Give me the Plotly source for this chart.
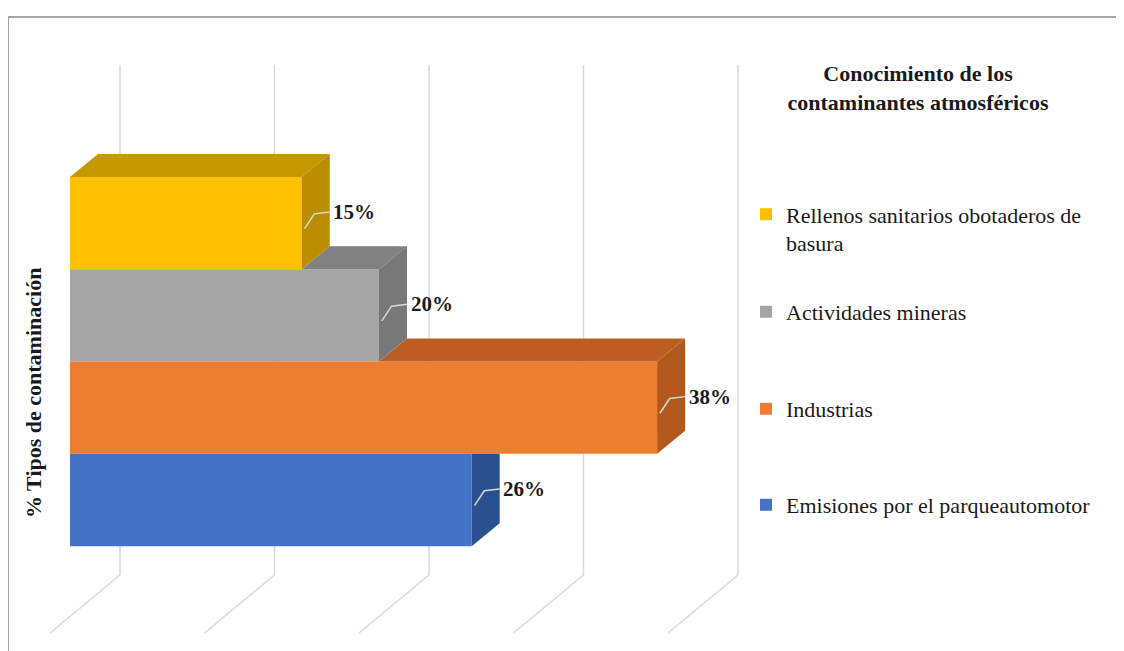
import plotly.graph_objects as go

# ---------------- data ----------------
categories = ["Rellenos sanitarios obotaderos de<br>basura",
              "Actividades mineras",
              "Industrias",
              "Emisiones por el parqueautomotor"]
values = [15, 20, 38, 26]
value_labels = ["15%", "20%", "38%", "26%"]
grid_ticks = [0, 10, 20, 30, 40]
chart_title = "Conocimiento de los<br>contaminantes atmosféricos"
axis_title = "% Tipos de contaminación"

# ---------------- styles ----------------
front_colors = ["#FFC000", "#A5A5A5", "#ED7D31", "#4472C4"]
top_colors = ["#C59800", "#818181", "#BC5E22", "#2F5597"]
side_colors = ["#BB8E00", "#787878", "#B3581D", "#2B5090"]
SERIF = "Liberation Serif, Times New Roman, serif"

PAGE_OFF = 8                      # default page body margin
W, H = 1124 - PAGE_OFF, 651 - PAGE_OFF


def xp(px):
    return (px - PAGE_OFF) / W


def yp(py):
    return 1 - (py - PAGE_OFF) / H


X0_PX, PX_PER_PCT = 70.0 - PAGE_OFF, 15.45   # pixel of 0 % on the front plane
Y0_PX, PX_PER_CAT = 500.0 - PAGE_OFF, 92.3   # pixel of lowest category centre
DX = 28 / PX_PER_PCT                 # bar depth (x) in axis units
DY = 23 / PX_PER_CAT                 # bar depth (y) in axis units
WALL_DX = 50 / PX_PER_PCT            # back wall offset
FLOOR_DX = -70 / PX_PER_PCT          # floor front edge offset from wall
WALL_BOTTOM = 75 / -PX_PER_CAT + 0   # 575 px
WALL_BOTTOM = (500 - 575) / PX_PER_CAT
WALL_TOP = (500 - 65) / PX_PER_CAT
FLOOR_FRONT = (500 - 633) / PX_PER_CAT

xr = [(0 - X0_PX) / PX_PER_PCT, (W - X0_PX) / PX_PER_PCT]
yr = [(Y0_PX - H) / PX_PER_CAT, Y0_PX / PX_PER_CAT]

n = len(values)
fig = go.Figure()

# side / top faces drawn from bottom bar to top bar
for p in range(n):
    i = n - 1 - p
    v = values[i]
    above = values[i - 1] if i - 1 >= 0 else None
    xs = min(above, v) if above is not None else 0
    if xs < v:
        fig.add_trace(go.Scatter(
            x=[xs, xs + DX, v + DX, v, xs],
            y=[p + 0.5, p + 0.5 + DY, p + 0.5 + DY, p + 0.5, p + 0.5],
            fill="toself", fillcolor=top_colors[i], mode="lines",
            line=dict(width=0, color=top_colors[i]),
            showlegend=False, hoverinfo="skip"))
    if above is not None and above >= v + DX:
        sy = [p - 0.5, p - 0.5 + DY, p + 0.5, p + 0.5, p - 0.5]
    else:
        sy = [p - 0.5, p - 0.5 + DY, p + 0.5 + DY, p + 0.5, p - 0.5]
    fig.add_trace(go.Scatter(
        x=[v, v + DX, v + DX, v, v], y=sy, fill="toself",
        fillcolor=side_colors[i], mode="lines",
        line=dict(width=0, color=side_colors[i]),
        showlegend=False, hoverinfo="skip"))

# leader lines and value labels
for i, v in enumerate(values):
    p = n - 1 - i
    fig.add_trace(go.Scatter(
        x=[v + DX * 0.1, v + DX * 0.45, v + DX],
        y=[p - 0.06, p + 0.1, p + 0.12],
        mode="lines", line=dict(color="#D9D9D9", width=1.5),
        showlegend=False, hoverinfo="skip"))
    fig.add_annotation(x=v + DX + 0.1, y=p + 0.12, xref="x", yref="y",
                       text="<b>%s</b>" % value_labels[i], showarrow=False,
                       xanchor="left", yanchor="middle",
                       font=dict(family=SERIF, size=21, color="#1a1a1a"))

# front faces (real bars, one legend each)
legend_centers_px = [229, 312, 409, 505]
for i, v in enumerate(values):
    p = n - 1 - i
    lname = "legend" if i == 0 else "legend%d" % (i + 1)
    fig.add_trace(go.Bar(
        x=[v], y=[p], base=0, width=[1.0], orientation="h",
        name=categories[i], marker=dict(color=front_colors[i], line=dict(width=0)),
        legend=lname, showlegend=True, hoverinfo="skip"))

legend_common = dict(x=xp(746), xanchor="left", yanchor="middle",
                     bgcolor="rgba(0,0,0,0)", itemwidth=30, valign="top",
                     font=dict(family=SERIF, size=22, color="#1a1a1a"))
for i in range(n):
    key = "legend" if i == 0 else "legend%d" % (i + 1)
    fig.layout[key] = dict(legend_common, y=yp(legend_centers_px[i]))

# 3D gridlines (back wall verticals + floor diagonals)
for t in grid_ticks:
    fig.add_shape(type="line", xref="x", yref="y", layer="below",
                  x0=t + WALL_DX, x1=t + WALL_DX, y0=WALL_BOTTOM, y1=WALL_TOP,
                  line=dict(color="#D9D9D9", width=1.5))
    fig.add_shape(type="line", xref="x", yref="y", layer="below",
                  x0=t + WALL_DX, x1=t + WALL_DX + FLOOR_DX, y0=WALL_BOTTOM, y1=FLOOR_FRONT,
                  line=dict(color="#D9D9D9", width=1.5))

# chart frame
fig.add_shape(type="rect", xref="paper", yref="paper", layer="above",
              x0=xp(8), x1=1.02, y0=-0.02, y1=yp(17),
              line=dict(color="#A6A6A6", width=2), fillcolor="rgba(0,0,0,0)")

# axis title
fig.add_annotation(x=xp(33), y=yp(393), xref="paper", yref="paper",
                   text="<b>%s</b>" % axis_title, textangle=-90, showarrow=False,
                   xanchor="center", yanchor="middle",
                   font=dict(family=SERIF, size=22, color="#1a1a1a"))

fig.update_layout(
    width=W, height=H, autosize=False,
    margin=dict(l=0, r=0, t=0, b=0),
    paper_bgcolor="white", plot_bgcolor="white",
    barmode="overlay",
    title=dict(text="<b>%s</b>" % chart_title, x=xp(918), xanchor="center",
               y=yp(81), yanchor="middle", xref="paper", yref="paper",
               font=dict(family=SERIF, size=22, color="#1a1a1a")),
    xaxis=dict(range=xr, visible=False, fixedrange=True),
    yaxis=dict(range=yr, visible=False, fixedrange=True),
)

fig.write_html("out.html")
